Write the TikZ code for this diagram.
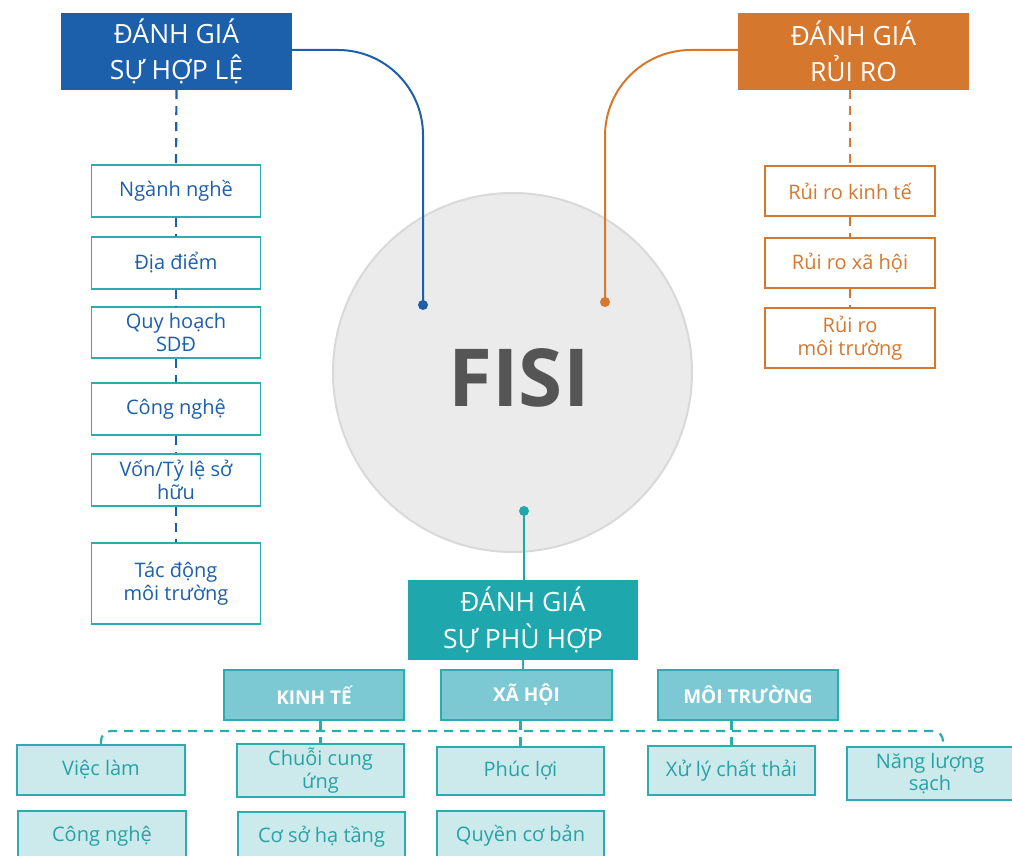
\documentclass[tikz,border=0pt]{standalone}
\usepackage{fontspec}
\setmainfont{Open Sans}
\usepackage{tikz}
\usetikzlibrary{positioning,calc}
\definecolor{hlblue}{HTML}{1C5FAB}
\definecolor{rorange}{HTML}{D5782E}
\definecolor{phteal}{HTML}{1EA8AE}
\definecolor{tealline}{HTML}{2BADB0}
\definecolor{tealtext}{HTML}{27A3A7}
\definecolor{catfill}{HTML}{7CC8D3}
\definecolor{subfill}{HTML}{CCE9EB}
\definecolor{fisigray}{HTML}{555555}
\newcommand*{\fs}[2]{\fontsize{#1}{#2}\selectfont}

\begin{document}
\begin{tikzpicture}[x=1pt,y=-1pt]
\tikzstyle{head}=[minimum width=231pt,minimum height=77pt,inner sep=0pt,align=center,text=white,font=\fs{26.5}{36.5}]
\tikzstyle{crit}=[draw=tealline,line width=1.6pt,fill=white,minimum width=169pt,inner sep=0pt,align=center,text=hlblue,font=\fs{20}{22.5}]
\tikzstyle{risk}=[draw=rorange,line width=1.6pt,fill=white,minimum width=170pt,inner sep=0pt,align=center,text=rorange,font=\fs{20}{22.5}]
\tikzstyle{cat}=[draw=tealline,line width=1.6pt,fill=catfill,minimum width=180pt,minimum height=50pt,inner sep=0pt,text=white,font=\fs{19}{22}\bfseries]
\tikzstyle{sub}=[draw=tealline,line width=1.6pt,fill=subfill,minimum width=167pt,inner sep=0pt,align=center,text=tealtext,font=\fs{20}{22.5}]
\tikzstyle{dot}=[fill,shape=circle,minimum size=10pt,inner sep=0pt]
\tikzstyle{dashlink}=[line width=2.2pt,dash pattern=on 9pt off 7pt]
\useasboundingbox (0,0) rectangle (1012,856);

\node[circle,draw=black!15,line width=2pt,fill=black!8,minimum size=359pt,inner sep=0pt] (fisi) at (512.5,372.5) {};
\node[text=fisigray,font=\fs{80}{84}\bfseries] (fisitext) at (519,378) {FISI};

\node[head,fill=hlblue] (lefthd) at (176.5,51.5) {ĐÁNH GIÁ\\SỰ HỢP LỆ};
\node[head,fill=rorange] (righthd) at (853.5,51.5) {ĐÁNH GIÁ\\RỦI RO};
\node[head,fill=phteal,minimum width=230pt,minimum height=80pt] (bothd) at (523,620) {ĐÁNH GIÁ\\SỰ PHÙ HỢP};

\node[dot,hlblue] (bluedot) at (423,305) {};
\node[dot,rorange] (orangedot) at (605,302) {};
\node[dot,phteal] (tealdot) at (524,511) {};

\node[crit,minimum height=52pt] (nganh) at (176,191) {Ngành nghề};
\node[crit,minimum height=52pt] (diadiem) at (176,263) {Địa điểm};
\node[crit,minimum height=51pt] (quyhoach) at (176,332.5) {Quy hoạch\\SDĐ};
\node[crit,minimum height=52pt] (congnghe) at (176,409) {Công nghệ};
\node[crit,minimum height=52pt] (von) at (176,480) {Vốn/Tỷ lệ sở\\hữu};
\node[crit,minimum height=81pt] (tacdong) at (176,583.5) {Tác động\\môi trường};

\node[risk,minimum height=50pt] (rrkt) at (850,191) {Rủi ro kinh tế};
\node[risk,minimum height=50pt] (rrxh) at (850,263) {Rủi ro xã hội};
\node[risk,minimum height=60pt] (rrmt) at (850,338) {Rủi ro\\môi trường};

\node[cat] (kinhte) at (314,695) {KINH TẾ};
\node[cat,minimum width=171pt] (xahoi) at (526.5,695) {XÃ HỘI};
\node[cat] (moitruong) at (748,695) {MÔI TRƯỜNG};

\node[sub,minimum width=168pt,minimum height=50pt] (vieclam) at (101,770) {Việc làm};
\node[sub,minimum width=168pt,minimum height=50pt] (congnghe2) at (102,836) {Công nghệ};
\node[sub,minimum height=53pt] (chuoi) at (320.5,770.5) {Chuỗi cung\\ứng};
\node[sub,minimum height=50pt] (coso) at (321.5,837) {Cơ sở hạ tầng};
\node[sub,minimum height=48pt] (phucloi) at (520.5,771) {Phúc lợi};
\node[sub,minimum height=50pt] (quyen) at (520.5,836) {Quyền cơ bản};
\node[sub,minimum height=49pt] (xuly) at (731.5,770.5) {Xử lý chất thải};
\node[sub,minimum width=166pt,minimum height=53pt] (nangluong) at (930,773.5) {Năng lượng\\sạch};

\draw[hlblue,line width=2pt,rounded corners=85pt] ([yshift=1.5pt]lefthd.east) -| (bluedot.center);
\draw[rorange,line width=2pt,rounded corners=86pt] ([yshift=1.5pt]righthd.west) -| (orangedot.center);
\draw[phteal,line width=2pt] (tealdot.center) -- (tealdot |- bothd.north);
\draw[tealline,line width=2pt] (bothd.south) -- (bothd.south |- xahoi.north);

\draw[hlblue,dashlink] (lefthd.south) -- (nganh.north);
\foreach \a/\b in {nganh/diadiem,diadiem/quyhoach,quyhoach/congnghe,congnghe/von,von/tacdong}
  \draw[hlblue,dashlink] (\a.south) -- (\b.north);

\draw[rorange,dashlink] (righthd.south -| rrkt.north) -- (rrkt.north);
\draw[rorange,dashlink] (rrkt.south) -- (rrxh.north);
\draw[rorange,dashlink] (rrxh.south) -- (rrmt.north);

\coordinate (bus) at (520,731);
\draw[tealline,dashlink,rounded corners=10pt] (vieclam.north) |- (bus) -| ([xshift=13pt]nangluong.north);
\draw[tealline,dashlink] (kinhte.south -| chuoi.north) -- (chuoi.north);
\draw[tealline,dashlink] (xahoi.south -| phucloi.north) -- (phucloi.north);
\draw[tealline,dashlink] (moitruong.south -| xuly.north) -- (xuly.north);

\end{tikzpicture}
\end{document}
